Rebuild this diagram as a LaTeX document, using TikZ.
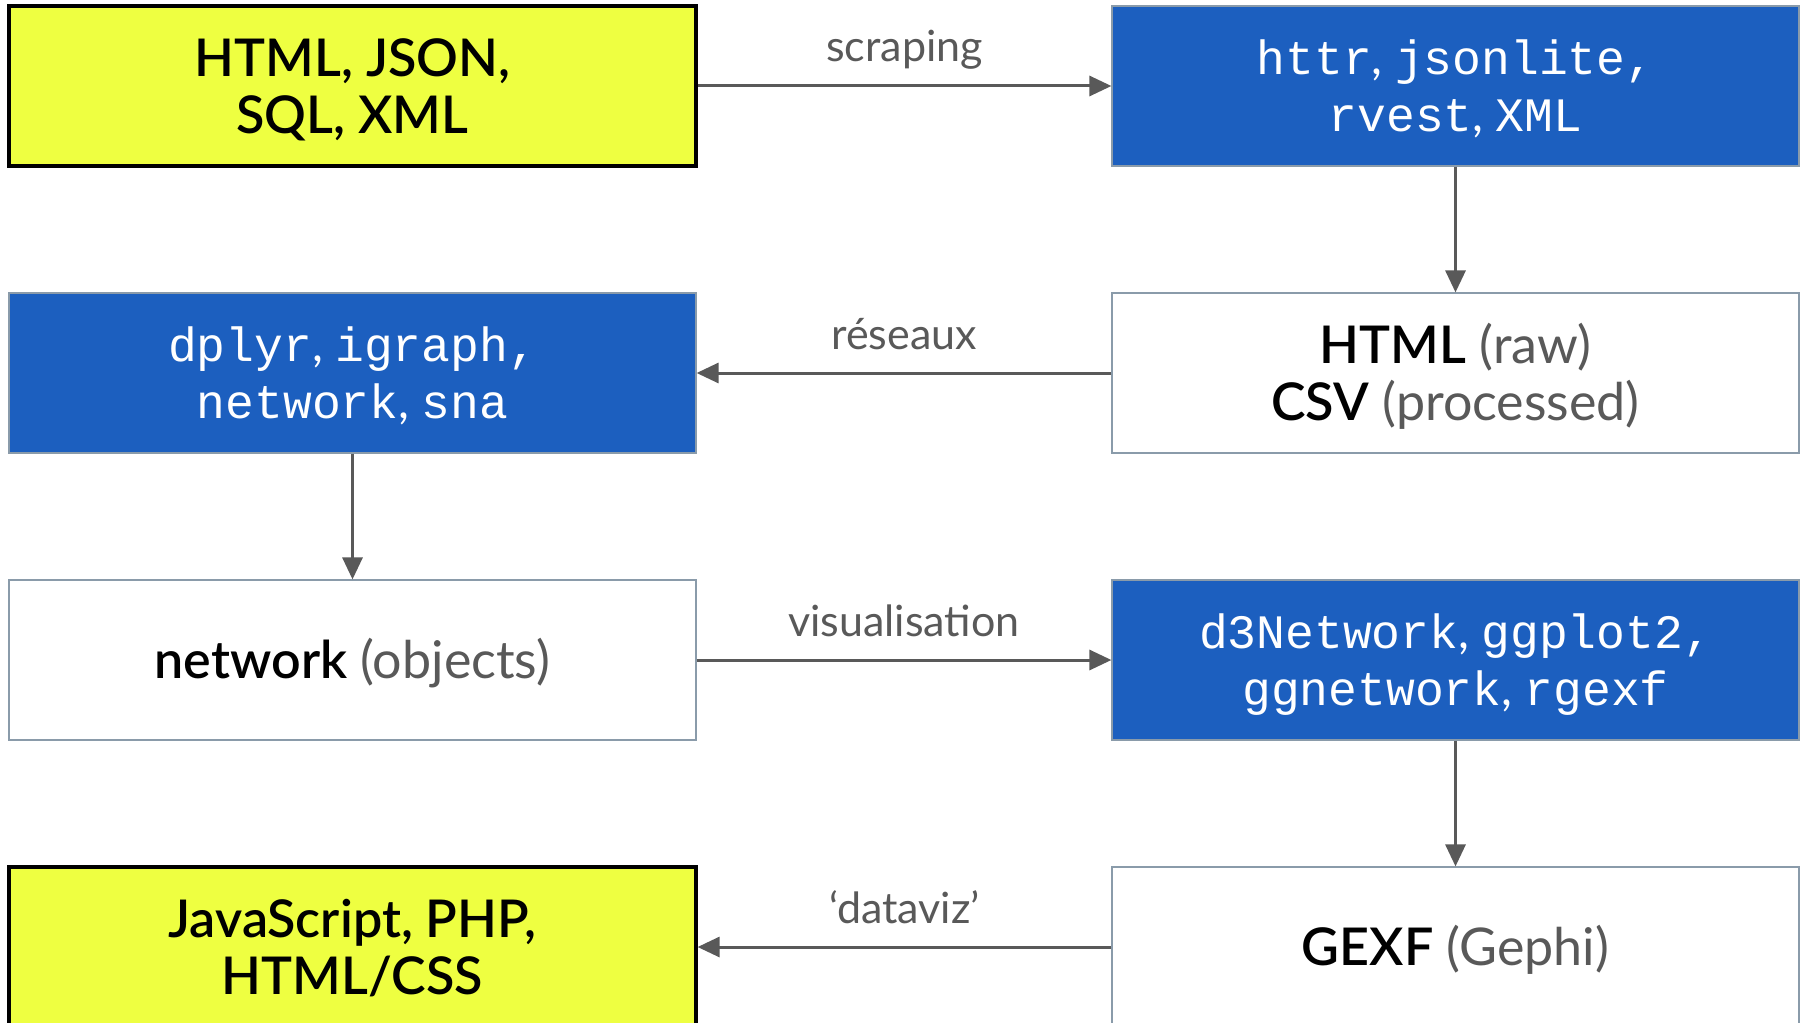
\documentclass[tikz,border=0pt]{standalone}
\usepackage{fontspec}
\setmainfont{Lato}[BoldFont={Lato Semibold}]
\setmonofont{Liberation Mono}
\usetikzlibrary{arrows.meta}
\definecolor{hlyellow}{HTML}{EEFF41}
\definecolor{dblue}{HTML}{1C5FBF}
\definecolor{edgegray}{HTML}{8A9BAA}
\definecolor{arrgray}{HTML}{595959}
\newcommand\twolines[2]{\begin{tabular}[b]{@{}c@{}}#1\\#2\end{tabular}}
\begin{document}
\begin{tikzpicture}[x=0.5pt,y=-0.5pt,
 box/.style={minimum width=343.5pt, minimum height=80pt, inner sep=0pt, text height=48pt, text depth=0.5pt, font=\fontsize{26}{28.5}\selectfont},
 one/.style={text height=18.4pt, text depth=0pt},
 ybox/.style={box, fill=hlyellow, draw=black, line width=1.6pt, font=\fontsize{26}{28.5}\selectfont\bfseries},
 bbox/.style={box, fill=dblue, draw=edgegray, line width=0.6pt, text=white, text height=46.3pt, font=\fontsize{24}{28.5}\selectfont},
 wbox/.style={box, fill=white, draw=edgegray, line width=0.6pt},
 conn/.style={draw=arrgray, line width=1.5pt, -{Triangle[length=11pt,width=10pt]}},
 lab/.style={anchor=base, text=arrgray, yshift=12pt, font=\fontsize{21.5}{24}\selectfont}]
\fill[white] (0,0) rectangle (1807,1022);
\useasboundingbox (0,0) rectangle (1807,1022);
\node[ybox] (src) at (352.5,86) {\twolines{HTML, JSON,}{SQL, XML}};
\node[bbox] (scr) at (1455.5,86) {\twolines{\texttt{httr}, \texttt{jsonlite,}}{\texttt{rvest}, \texttt{XML}}};
\node[wbox] (raw) at (1455.5,373) {\twolines{\textbf{HTML} \textcolor{arrgray}{(raw)}}{\textbf{CSV} \textcolor{arrgray}{(processed)}}};
\node[bbox] (net) at (352.5,373) {\twolines{\texttt{dplyr}, \texttt{igraph,}}{\texttt{network}, \texttt{sna}}};
\node[wbox, one] (obj) at (352.5,660) {\textbf{network} \textcolor{arrgray}{(objects)}};
\node[bbox] (viz) at (1455.5,660) {\twolines{\texttt{d3Network}, \texttt{ggplot2,}}{\texttt{ggnetwork}, \texttt{rgexf}}};
\node[wbox, one] (gexf) at (1455.5,947) {\textbf{GEXF} \textcolor{arrgray}{(Gephi)}};
\node[ybox] (out) at (352.5,947) {\twolines{JavaScript, PHP,}{HTML/CSS}};
\draw[conn] (src) -- (scr) node[midway, lab] (l1) {scraping};
\draw[conn] (scr) -- (raw);
\draw[conn] (raw) -- (net) node[midway, lab] (l2) {réseaux};
\draw[conn] (net) -- (obj);
\draw[conn] (obj) -- (viz) node[midway, lab] (l3) {visualisation};
\draw[conn] (viz) -- (gexf);
\draw[conn] (gexf) -- (out) node[midway, lab] (l4) {‘dataviz’};
\end{tikzpicture}
\end{document}
